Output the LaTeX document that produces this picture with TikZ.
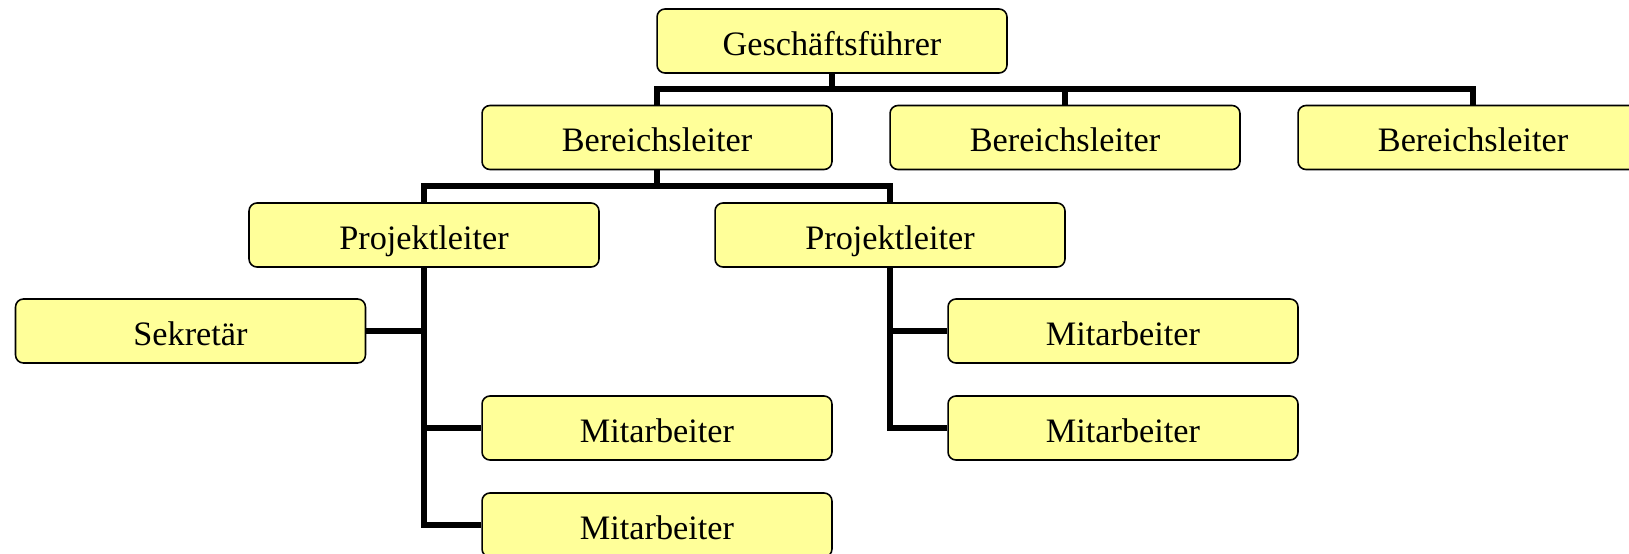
\documentclass[tikz,border=0pt]{standalone}
\usepackage{fontspec}
\setmainfont{Liberation Serif}
\usepackage{tikz}
\usetikzlibrary{positioning}
\definecolor{boxyellow}{HTML}{FFFF99}
\tikzset{orgbox/.style={draw,rectangle,rounded corners=4.5pt,line width=0.9pt,fill=boxyellow,
        minimum width=7cm,minimum height=1.28cm,inner sep=0,
        text height=16.3pt,text depth=0pt,
        font=\fontsize{19.5}{23}\selectfont},
    orgline/.style={line width=3.2pt,line join=miter}
}

\begin{document}
\begin{tikzpicture}[x=0.02cm,y=-0.02cm]

\useasboundingbox (0,0) rectangle (1629,554);
\clip (0,0) rectangle (1629,554);

% top
\node (gf) at (832,41) [orgbox] {Geschäftsführer};

% second level
\node (bl1) at (657,137.5) [orgbox] {Bereichsleiter};
\node (bl2) at (1065,137.5) [orgbox] {Bereichsleiter};
\node (bl3) at (1473,137.5) [orgbox] {Bereichsleiter};

% projects
\node (pl1) at (424,235) [orgbox] {Projektleiter};
\node (pl2) at (890,235) [orgbox] {Projektleiter};

% staff
\node (sek) at (190.5,331) [orgbox] {Sekretär};
\node (ml1) at (657,428) [orgbox] {Mitarbeiter};
\node (ml2) at (657,525) [orgbox] {Mitarbeiter};
\node (mr1) at (1123,331) [orgbox] {Mitarbeiter};
\node (mr2) at (1123,428) [orgbox] {Mitarbeiter};

\coordinate (gfbus) at (832,89);
\coordinate (blbus) at (657,186);

\draw [orgline] (gf) -- (gfbus);
\draw [orgline] (bl1) |- (gfbus) -| (bl3);
\draw [orgline] (bl2) -- (bl2 |- gfbus);

\draw [orgline] (bl1) -- (blbus);
\draw [orgline] (pl1) |- (blbus) -| (pl2);

\draw [orgline] (pl1) |- (ml2);
\draw [orgline] (sek) -- (sek -| pl1);
\draw [orgline] (ml1) -- (ml1 -| pl1);

\draw [orgline] (pl2) |- (mr2);
\draw [orgline] (mr1) -- (mr1 -| pl2);

\end{tikzpicture}
\end{document}
